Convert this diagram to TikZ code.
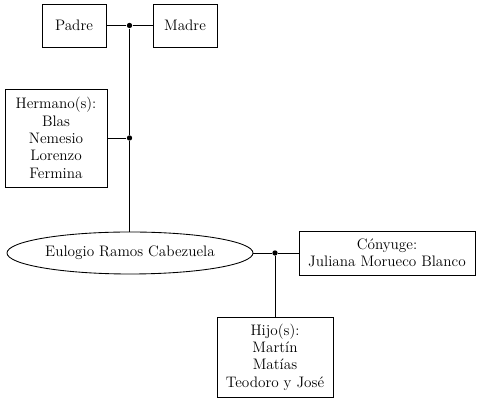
\documentclass[tikz,border=0pt]{standalone}
\usepackage{fontspec}
\usepackage{tikz}
\usetikzlibrary{positioning, shapes.geometric, calc}
\tikzset{
    persona/.style={draw, rectangle, align=center, inner sep=0pt, font=\fontsize{11.4}{13}\selectfont},
    union/.style={circle, fill, inner sep=0pt, minimum size=4pt},
}

\begin{document}
\begin{tikzpicture}[x=0.75pt, y=-0.75pt]
    \tikzset{
      every path/.style={line width=0.65pt},
      hide/.style={draw=none, fill=none}
    }
    \useasboundingbox (0,0) rectangle (480,402);

    \node[persona, minimum width=48pt, minimum height=32.25pt] (padre) at (74,25.5) {Padre};
    \node[persona, minimum width=48pt, minimum height=32.25pt] (madre) at (185,25.5) {Madre};
    \node[persona, minimum width=76.5pt, minimum height=73.5pt] (hermanos) at (56,138)
        {Hermano(s):\\Blas\\Nemesio\\Lorenzo\\Fermina};

    \node[persona, ellipse, minimum width=184.5pt, minimum height=31.5pt] (ego) at (130,253)
        {Eulogio Ramos Cabezuela};
    \node[persona, minimum width=132pt, minimum height=33pt] (conyuge) at (387,253)
        {Cónyuge:\\Juliana Morueco Blanco};
    \node[persona, minimum width=87pt, minimum height=60pt] (hijos) at (275,357)
        {Hijo(s):\\Martín\\Matías\\Teodoro y José};

    \node[union] (u1) at (129.5,25.5) {};
    \node[union] (u2) at (129.5,138) {};
    \node[union] (u3) at (275,253) {};

    \draw (padre) -- (u1) -- (madre);
    \draw (u1) -- (u2) -- (ego.north -| u2);
    \draw (hermanos.east |- u2) -- (u2);
    \draw (ego) -- (u3) -- (conyuge);
    \draw (u3) -- (hijos);
  \end{tikzpicture}
\end{document}
